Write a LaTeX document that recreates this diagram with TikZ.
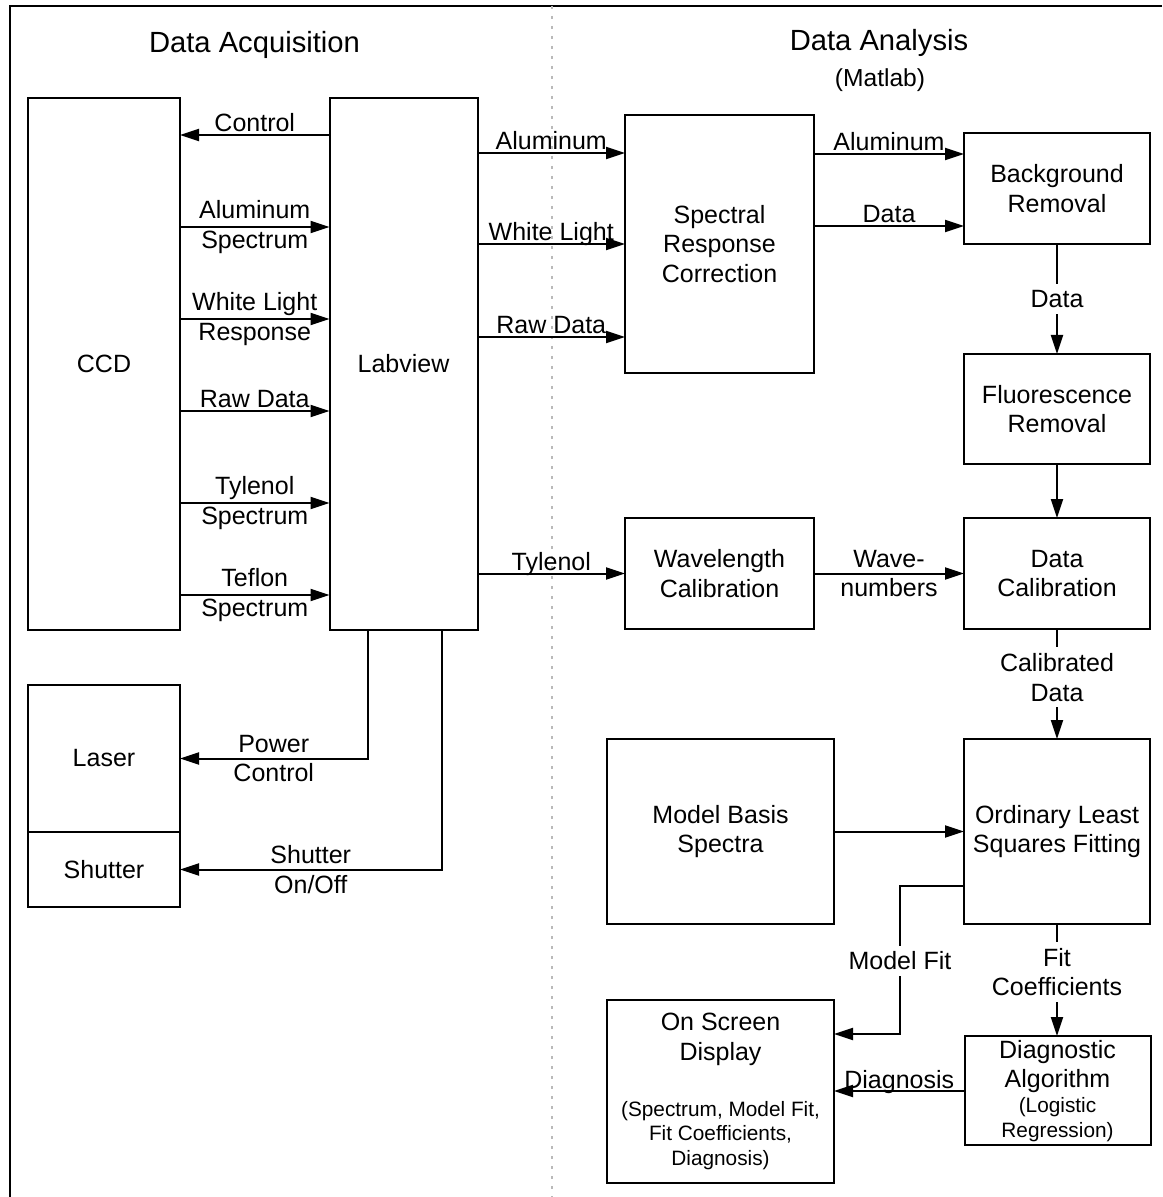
\documentclass[tikz,border=0pt]{standalone}
\usepackage{fontspec}
\setmainfont{Liberation Sans}
\usetikzlibrary{arrows.meta, positioning}

\begin{document}
\begin{tikzpicture}[
    x=0.5pt, y=-0.5pt,
    >={Triangle[length=9.5pt, width=6pt]},
    line width=1pt,
    font=\fontsize{12.5}{14.75}\selectfont,
    box/.style={draw, outer sep=0pt, inner sep=2pt},
    lbl/.style={inner sep=1pt, text depth=0pt}, % label sitting on a line
    gap/.style={fill=white, inner sep=3pt}, % label breaking a line
    note/.style={font=\fontsize{10.4}{12.2}\selectfont},
    title/.style={font=\fontsize{14.6}{17}\selectfont},
    align=center
]
    \useasboundingbox (0,0) rectangle (1162,1197);

    % FRAME AND DIVIDER
    \draw (1162,6) -- (9.5,6) -- (9.5,1197);
    \draw[gray!55, line width=0.6pt, dash pattern=on 1.5pt off 3.5pt] (552,6) -- (552,1197);

    % TITLES
    \node[title] (acq_title) at (254.5,45) {Data Acquisition};
    \node[title] (ana_title) at (879,43) {Data Analysis};
    \node[font=\fontsize{12.3}{14}\selectfont] (ana_sub) at (880,80) {(Matlab)};

    % DATA ACQUISITION
    \node (CCD) at (104,364) [box, minimum width=76pt, minimum height=266pt] {CCD};
    \node (Labview) at (403.5,364) [box, minimum width=74pt, minimum height=266pt] {Labview};
    \node (Laser) at (104,758.5) [box, minimum width=76pt, minimum height=73.5pt] {Laser};
    \node (Shutter) [box, below=0pt of Laser, minimum width=76pt, minimum height=37.5pt] {Shutter};

    % Connect CCD and Labview
    \draw[->] (Labview.west |- 0,135) -- node[above, lbl]{Control} (CCD.east |- 0,135);
    \draw[->] (CCD.east |- 0,227) -- node{Aluminum\\Spectrum} (Labview.west |- 0,227);
    \draw[->] (CCD.east |- 0,319) -- node{White Light\\Response} (Labview.west |- 0,319);
    \draw[->] (CCD.east |- 0,411) -- node[above, lbl]{Raw Data} (Labview.west |- 0,411);
    \draw[->] (CCD.east |- 0,503) -- node{Tylenol\\Spectrum} (Labview.west |- 0,503);
    \draw[->] (CCD.east |- 0,595) -- node{Teflon\\Spectrum} (Labview.west |- 0,595);

    % Labview to laser and shutter
    \draw[->] ([xshift=-18pt]Labview.south) |- node[pos=0.75]{Power\\Control} (Laser.east);
    \draw[->] ([xshift=19pt]Labview.south) |- node[pos=0.75]{Shutter\\On/Off} (Shutter.east);

    % DATA ANALYSIS
    \node (SRC) at (719.5,244) [box, minimum width=94.5pt, minimum height=129pt] {Spectral\\Response\\Correction};
    \node (WaveCal) at (719.5,573.5) [box, minimum width=94.5pt, minimum height=55.5pt] {Wavelength\\Calibration};
    \node (BackRem) at (1057,188.5) [box, minimum width=93pt, minimum height=55.5pt] {Background\\Removal};
    \node (FluoRem) at (1057,409) [box, minimum width=93pt, minimum height=55pt] {Fluorescence\\Removal};
    \node (DataCal) at (1057,573.5) [box, minimum width=93pt, minimum height=55.5pt] {Data\\Calibration};
    \node (ModelBasis) at (720.5,831.5) [box, minimum width=113.5pt, minimum height=92.5pt] {Model Basis\\Spectra};
    \node (OLS) at (1057,831.5) [box, minimum width=93pt, minimum height=92.5pt] {Ordinary Least\\Squares Fitting};
    \node (Display) at (720.5,1091.5) [box, minimum width=113.5pt, minimum height=91.5pt] {};
    \node (Diag) at (1057.5,1090.5) [box, minimum width=93pt, minimum height=54.5pt] {};
    \node (Display_txt) at ([yshift=26pt]Display.center) {On Screen\\Display};
    \node[note] (Display_note) at ([yshift=-22pt]Display.center) {(Spectrum, Model Fit,\\Fit Coefficients,\\Diagnosis)};
    \node (Diag_txt) at ([yshift=12pt]Diag.center) {Diagnostic\\Algorithm};
    \node[note] (Diag_note) at ([yshift=-14.5pt]Diag.center) {(Logistic\\Regression)};

    % Labview to the analysis
    \draw[->] (Labview.east |- 0,153) -- node[above, lbl]{Aluminum} (SRC.west |- 0,153);
    \draw[->] (Labview.east |- SRC) -- node[above, lbl]{White Light} (SRC.west);
    \draw[->] (Labview.east |- 0,337) -- node[above, lbl]{Raw Data} (SRC.west |- 0,337);
    \draw[->] (Labview.east |- WaveCal) -- node[above, lbl]{Tylenol} (WaveCal.west);

    % Analysis chain
    \draw[->] (SRC.east |- 0,154) -- node[above, lbl]{Aluminum} (BackRem.west |- 0,154);
    \draw[->] (SRC.east |- 0,226) -- node[above, lbl]{Data} (BackRem.west |- 0,226);
    \draw[->] (BackRem) -- node[gap]{Data} (FluoRem);
    \draw[->] (FluoRem) -- (DataCal);
    \draw[->] (WaveCal) -- node{Wave-\\numbers} (DataCal);
    \draw[->] (DataCal) -- node[gap, pos=0.44]{Calibrated\\Data} (OLS);
    \draw[->] (ModelBasis) -- (OLS);
    \draw[->] (OLS.south) -- node[gap, pos=0.43]{Fit\\Coefficients} (OLS.south |- Diag.north);
    \draw[->] (Diag.west |- 0,1091) -- node[above, lbl]{Diagnosis} (Display.east |- 0,1091);

    % Model fit back to the display
    \coordinate (fit_bend) at (900,1034);
    \draw[->] (OLS.west |- 0,886) -| (fit_bend) -- (Display.east |- fit_bend);
    \node[gap] (fit_lbl) at (900,961) {Model Fit};
\end{tikzpicture}
\end{document}
